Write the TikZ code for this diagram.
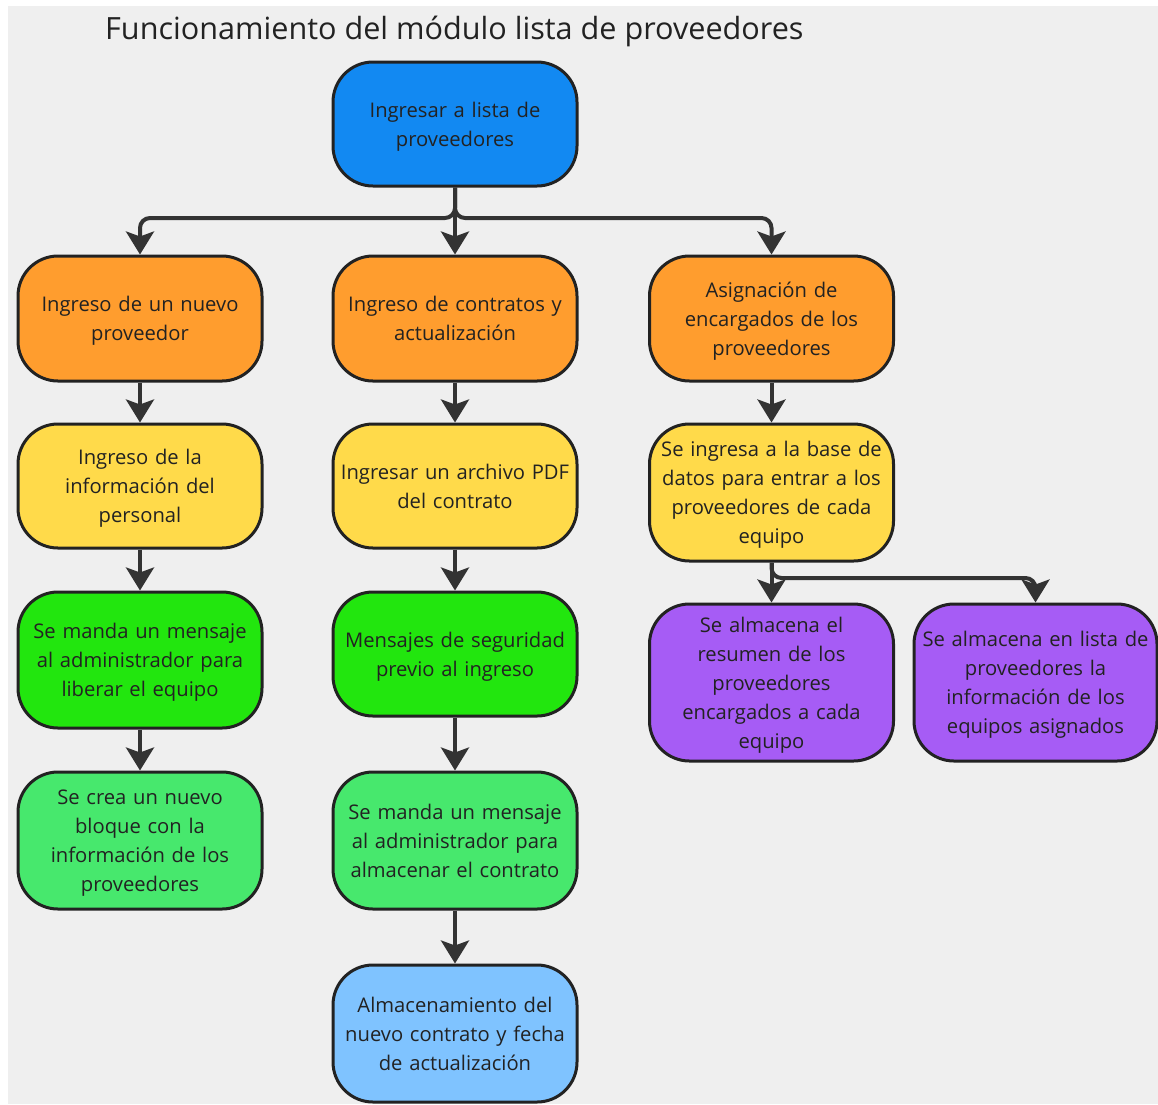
\documentclass[tikz,border=0pt]{standalone}
\usepackage{fontspec}
\setmainfont{Open Sans}
\usetikzlibrary{arrows.meta}

\definecolor{panel}{HTML}{EFEFEF}
\definecolor{cblue}{HTML}{1289F2}
\definecolor{corange}{HTML}{FF9D2E}
\definecolor{cyellow}{HTML}{FFDA4A}
\definecolor{cgreen}{HTML}{22E60E}
\definecolor{cmint}{HTML}{47E86D}
\definecolor{cpurple}{HTML}{A65CF5}
\definecolor{csky}{HTML}{7FC3FF}
\definecolor{ink}{HTML}{222222}
\definecolor{wire}{HTML}{333333}

\tikzset{
  box/.style={draw=ink, line width=3pt, rounded corners=40pt,
    minimum width=244pt, text width=240pt, align=center, inner sep=0pt,
    text=ink, font=\fontsize{20.2}{29}\selectfont,
    % fixed first-line height and last-line depth keep every label centred alike
    execute at begin node={\rule{0pt}{22pt}},
    execute at end node={\rule[-6.5pt]{0pt}{6.5pt}}},
  flow/.style={draw=wire, line width=4pt,
    -{Stealth[length=23pt,width=28pt,inset=5pt]}, rounded corners=10pt}
}

\begin{document}
\begin{tikzpicture}[x=1pt,y=-1pt]
  % canvas
  \useasboundingbox (0,0) rectangle (1158,1104);
  \fill[white] (0,0) rectangle (1158,1104);
  \fill[panel] (8,6) rectangle (1158,1104);

  % heading
  \node[anchor=west, text=ink, font=\fontsize{30.6}{36}\selectfont, inner sep=0pt]
    (title) at (105,31) {Funcionamiento del módulo lista de proveedores};

  % boxes
  \node[box, fill=cblue, minimum height=124pt] (top) at (455,124)
    {Ingresar a lista de\\proveedores};

  \node[box, fill=corange, minimum height=125pt] (o1) at (140,318.5)
    {Ingreso de un nuevo\\proveedor};
  \node[box, fill=corange, minimum height=125pt] (o2) at (455,318.5)
    {Ingreso de contratos y\\actualización};
  \node[box, fill=corange, minimum height=125pt] (o3) at (771.5,318.5)
    {Asignación de\\encargados de los\\proveedores};

  \node[box, fill=cyellow, minimum height=124pt] (y1) at (140,486)
    {Ingreso de la\\información del\\personal};
  \node[box, fill=cyellow, minimum height=124pt] (y2) at (455,486)
    {Ingresar un archivo PDF\\del contrato};
  \node[box, fill=cyellow, minimum height=137pt] (y3) at (771.5,492.5)
    {Se ingresa a la base de\\datos para entrar a los\\proveedores de cada\\equipo};

  \node[box, fill=cgreen, minimum height=136pt] (g1) at (140,660)
    {Se manda un mensaje\\al administrador para\\liberar el equipo};
  \node[box, fill=cgreen, minimum height=124pt] (g2) at (455,654)
    {Mensajes de seguridad\\previo al ingreso};

  \node[box, fill=cpurple, minimum height=157pt] (p1) at (771.5,682.5)
    {Se almacena el\\resumen de los\\proveedores\\encargados a cada\\equipo};
  \node[box, fill=cpurple, minimum height=157pt, minimum width=243pt] (p2) at (1035.5,682.5)
    {Se almacena en lista de\\proveedores la\\información de los\\equipos asignados};

  \node[box, fill=cmint, minimum height=137pt] (m1) at (140,840.5)
    {Se crea un nuevo\\bloque con la\\información de los\\proveedores};
  \node[box, fill=cmint, minimum height=137pt] (m2) at (455,840.5)
    {Se manda un mensaje\\al administrador para\\almacenar el contrato};

  \node[box, fill=csky, minimum height=137pt] (s1) at (455,1033.5)
    {Almacenamiento del\\nuevo contrato y fecha\\de actualización};

  % branching points
  \coordinate (split) at (455,218);
  \coordinate (split2) at (771.5,578);

  % connectors
  \draw[flow] (top.south) -- (o2.north);
  \draw[flow] (top.south) -- (split) -| (o1.north);
  \draw[flow] (top.south) -- (split) -| (o3.north);

  \draw[flow] (o1) -- (y1);
  \draw[flow] (y1) -- (g1);
  \draw[flow] (g1) -- (m1);

  \draw[flow] (o2) -- (y2);
  \draw[flow] (y2) -- (g2);
  \draw[flow] (g2) -- (m2);
  \draw[flow] (m2) -- (s1);

  \draw[flow] (o3) -- (y3);
  \draw[flow] (y3) -- (p1);
  \draw[flow] (y3.south) -- (split2) -| (p2.north);
\end{tikzpicture}
\end{document}
